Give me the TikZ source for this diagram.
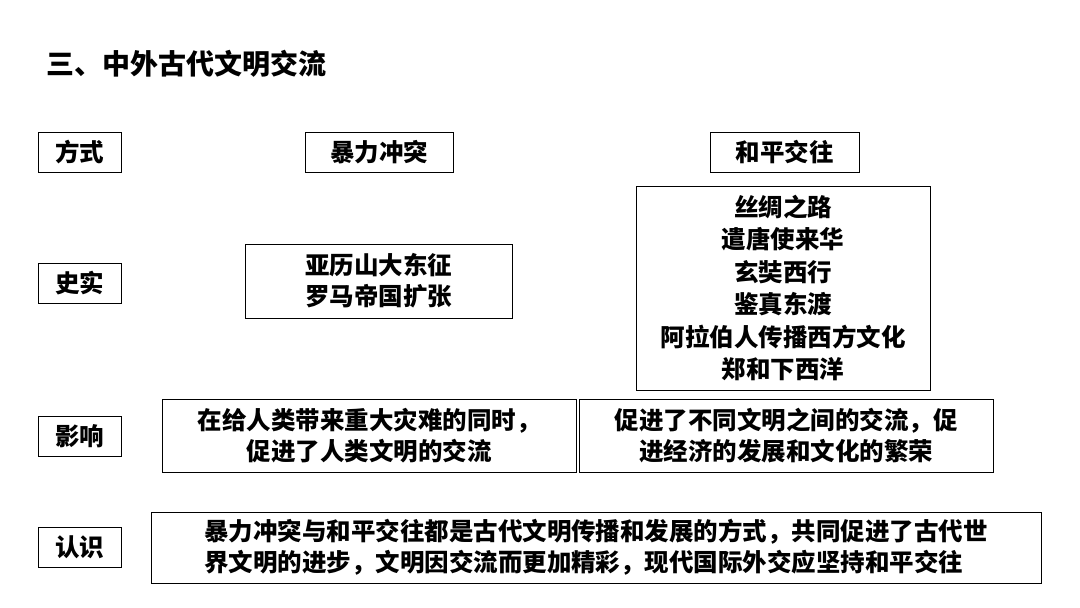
\documentclass[tikz,border=0pt]{standalone}
\usepackage{fontspec}
\setmainfont{Noto Sans CJK SC}
\begin{document}
\begin{tikzpicture}[x=1pt,y=-1pt,
  bx/.style={draw=black,line width=0.8pt,inner sep=0pt},
  tx/.style={font=\bfseries\fontsize{24.5}{31}\selectfont,align=center,inner sep=0pt}]
\useasboundingbox (0,0) rectangle (1080,608);
\node[anchor=west,font=\bfseries\fontsize{28}{30}\selectfont,inner sep=0pt] (title) at (46,64) {三、中外古代文明交流};
\draw[bx] (38,132) rectangle (121,172); \node[tx] (fs) at (79.5,152) {方式};
\draw[bx] (305,132) rectangle (453,172); \node[tx] (bl) at (379,152) {暴力冲突};
\draw[bx] (710,132) rectangle (859,172); \node[tx] (hp) at (784.5,152) {和平交往};
\draw[bx] (38,263) rectangle (121,303); \node[tx] (ss) at (79.5,283) {史实};
\draw[bx] (245,244) rectangle (512,318); \node[tx] (ss1) at (378.5,281) {亚历山大东征\\罗马帝国扩张};
\draw[bx] (636,186) rectangle (930,390); \node[tx,font=\bfseries\fontsize{24.5}{32.5}\selectfont] (ss2) at (783,288) {丝绸之路\\遣唐使来华\\玄奘西行\\鉴真东渡\\阿拉伯人传播西方文化\\郑和下西洋};
\draw[bx] (38,416) rectangle (121,456); \node[tx] (yx) at (79.5,436) {影响};
\draw[bx] (162,399) rectangle (576,472); \node[tx] (yx1) at (369,436) {在给人类带来重大灾难的同时，\\促进了人类文明的交流};
\draw[bx] (579,399) rectangle (993,472); \node[tx] (yx2) at (786,436) {促进了不同文明之间的交流，促\\进经济的发展和文化的繁荣};
\draw[bx] (38,527) rectangle (121,567); \node[tx] (rs) at (79.5,547) {认识};
\draw[bx] (151,512) rectangle (1041,583); \node[tx,align=left] (rs1) at (596,547.5) {暴力冲突与和平交往都是古代文明传播和发展的方式，共同促进了古代世\\界文明的进步，文明因交流而更加精彩，现代国际外交应坚持和平交往};
\end{tikzpicture}
\end{document}
